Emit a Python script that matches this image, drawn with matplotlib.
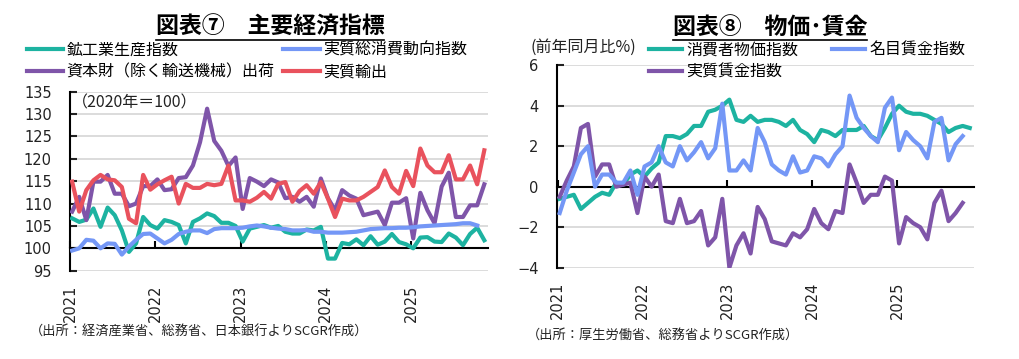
import numpy as np
import matplotlib
matplotlib.use('Agg')
import matplotlib.pyplot as plt
from matplotlib.lines import Line2D

plt.rcParams['font.family'] = ['Noto Sans CJK JP', 'DejaVu Sans']

# ---- data: monthly, Jan 2021 onwards ----
years = ['2021', '2022', '2023', '2024', '2025']

# 図表⑦ (2020=100)
ip = [106.7, 105.9, 106.4, 108.9, 104.8, 109.1, 107.4, 104.0, 99.2, 101.1, 107.0, 105.2,
      104.4, 106.3, 105.9, 105.2, 101.1, 105.9, 106.7, 107.8, 107.2, 105.7, 105.7, 105.0,
      101.5, 104.4, 104.8, 105.2, 104.6, 105.0, 103.7, 103.3, 103.3, 104.2, 104.0, 104.8,
      97.7, 97.7, 101.2, 100.9, 102.0, 100.7, 102.7, 100.8, 101.5, 103.2, 101.4, 100.9,
      100.0, 102.4, 102.5, 101.5, 101.4, 103.3, 102.4, 100.7, 103.2, 104.6, 101.8]
consumption = [99.5, 100.0, 101.9, 101.7, 100.0, 101.1, 101.0, 98.6, 100.4, 101.9, 103.2, 103.3,
               102.2, 101.1, 101.9, 103.2, 103.7, 104.0, 104.0, 103.4, 104.3, 104.5, 104.5, 104.5,
               104.6, 104.9, 105.1, 104.9, 104.6, 104.4, 104.3, 104.0, 104.0, 104.1, 103.7, 103.7,
               103.5, 103.5, 103.5, 103.6, 103.7, 104.0, 104.3, 104.4, 104.5, 104.5, 104.6, 104.6,
               104.7, 104.9, 105.0, 105.1, 105.2, 105.3, 105.4, 105.6, 105.6, 105.1]
capital_goods = [108.2, 111.5, 106.3, 114.9, 114.9, 116.4, 112.2, 112.2, 109.4, 110.0, 113.9, 113.9,
                 115.4, 113.0, 113.2, 115.7, 115.9, 118.5, 123.7, 131.2, 124.0, 121.8, 118.4, 120.3,
                 108.8, 115.7, 114.9, 113.9, 115.4, 114.7, 111.2, 111.5, 110.4, 111.5, 109.3, 115.6,
                 111.2, 108.5, 113.0, 111.8, 111.1, 107.4, 107.8, 108.2, 105.2, 110.2, 110.2, 111.2,
                 102.2, 112.4, 108.5, 105.6, 113.8, 116.9, 107.0, 107.0, 109.6, 109.6, 114.3]
exports = [114.9, 108.2, 113.0, 115.2, 116.4, 115.4, 115.2, 113.7, 106.6, 105.6, 116.4, 113.1,
           114.3, 115.2, 116.0, 110.0, 114.4, 113.5, 113.5, 114.4, 114.1, 114.4, 118.5, 110.7,
           110.7, 110.4, 111.3, 112.6, 111.1, 114.4, 114.8, 110.4, 112.8, 114.1, 112.2, 114.8,
           111.1, 107.0, 111.1, 110.7, 110.7, 111.5, 112.6, 113.7, 117.4, 113.7, 112.2, 117.3,
           113.9, 122.3, 118.5, 117.0, 117.0, 120.8, 115.4, 115.4, 118.5, 114.3, 121.9]

# 図表⑧ (前年同月比%)
cpi = [-0.6, -0.5, -0.4, -1.1, -0.8, -0.5, -0.3, -0.4, 0.2, 0.1, 0.6, 0.8,
       0.5, 0.9, 1.2, 2.5, 2.5, 2.4, 2.6, 3.0, 3.0, 3.7, 3.8, 4.0,
       4.3, 3.3, 3.2, 3.5, 3.2, 3.3, 3.3, 3.2, 3.0, 3.3, 2.8, 2.6,
       2.2, 2.8, 2.7, 2.5, 2.8, 2.8, 2.8, 3.0, 2.5, 2.3, 2.9, 3.6,
       4.0, 3.7, 3.6, 3.6, 3.5, 3.3, 3.1, 2.7, 2.9, 3.0, 2.9]
nominal_wage = [-1.3, -0.2, 0.7, 1.6, 2.0, 0.0, 0.6, 0.6, 0.2, 0.2, 0.8, -0.4,
                1.0, 1.2, 2.0, 1.2, 1.0, 2.0, 1.3, 1.7, 2.2, 1.4, 1.9, 4.1,
                0.8, 0.8, 1.3, 0.8, 2.9, 2.2, 1.1, 0.8, 0.6, 1.5, 0.7, 0.8,
                1.5, 1.4, 1.0, 1.6, 2.0, 4.5, 3.4, 2.9, 2.5, 2.2, 3.9, 4.4,
                1.8, 2.7, 2.3, 2.0, 1.4, 3.2, 3.4, 1.3, 2.1, 2.5]
real_wage = [-0.5, 0.3, 1.0, 2.9, 3.1, 0.5, 1.1, 1.1, 0.0, 0.1, 0.2, -1.3,
             0.5, 0.0, 0.6, -1.7, -1.8, -0.6, -1.8, -1.7, -1.2, -2.9, -2.5, -0.6,
             -4.0, -2.9, -2.3, -3.3, -1.0, -1.6, -2.7, -2.8, -2.9, -2.3, -2.5, -2.1,
             -1.1, -1.8, -2.1, -1.2, -1.3, 1.1, 0.2, -0.8, -0.4, -0.4, 0.5, 0.3,
             -2.8, -1.5, -1.8, -2.0, -2.6, -0.8, -0.2, -1.7, -1.3, -0.8]

TEAL = '#1db3a1'
BLUE = '#7497f6'
PURPLE = '#7f55a9'
RED = '#e9525d'
GRID = '#d9d9d9'
LW = 3.0
FS = 11.5
TICK_FS = 10.5

fig = plt.figure(figsize=(10.2, 3.59), dpi=100)
ax1 = fig.add_axes([0.0686, 0.2460, 0.4101, 0.4986])
ax2 = fig.add_axes([0.5458, 0.2543, 0.4091, 0.5641])

year_pos = np.arange(len(years)) * 12 - 0.3


def style_axis(ax, base, ylim, yticks, xlim):
    ax.set_xlim(*xlim)
    ax.set_ylim(*ylim)
    ax.set_yticks(yticks)
    ax.grid(axis='y', color=GRID, lw=1.3)
    ax.set_axisbelow(True)
    for s in ['top', 'right']:
        ax.spines[s].set_visible(False)
    ax.spines['left'].set_linewidth(1.5)
    ax.spines['bottom'].set_position(('data', base))
    ax.spines['bottom'].set_linewidth(1.5)
    ax.spines['bottom'].set_zorder(1)
    ax.set_xticks(year_pos)
    ax.tick_params(axis='x', direction='in', length=5, width=1.5, labelbottom=False)
    ax.tick_params(axis='y', direction='in', length=5, width=1.5, pad=13,
                   labelsize=TICK_FS, colors='#222222')
    for lab in ax.get_yticklabels():
        lab.set_family('DejaVu Sans')
    sec = ax.secondary_xaxis(0)
    sec.set_xticks(year_pos, years, rotation=90, fontsize=TICK_FS, color='#222222',
                   family='DejaVu Sans')
    sec.tick_params(length=0, pad=10)
    sec.spines['bottom'].set_visible(False)


# ---- 図表⑦ ----
x1 = np.arange(len(ip))
ax1.plot(x1, ip, color=TEAL, lw=LW, label='鉱工業生産指数', zorder=3)
ax1.plot(x1, capital_goods, color=PURPLE, lw=LW, label='資本財（除く輸送機械）出荷', zorder=3)
ax1.plot(np.arange(len(consumption)), consumption, color=BLUE, lw=LW, label='実質総消費動向指数', zorder=4)
ax1.plot(np.arange(len(exports)), exports, color=RED, lw=LW, label='実質輸出', zorder=3)
style_axis(ax1, 100, (95, 135), np.arange(95, 136, 5), (-0.24, 58.56))
ax1.text(0.005, 0.985, '（2020年＝100）', transform=ax1.transAxes, va='top', ha='left',
         fontsize=FS, color='#222222')

# ---- 図表⑧ ----
ax2.plot(np.arange(len(cpi)), cpi, color=TEAL, lw=LW, label='消費者物価指数', zorder=3)
ax2.plot(np.arange(len(real_wage)), real_wage, color=PURPLE, lw=LW, label='実質賃金指数', zorder=3)
ax2.plot(np.arange(len(nominal_wage)), nominal_wage, color=BLUE, lw=LW, label='名目賃金指数', zorder=4)
style_axis(ax2, 0, (-4, 6), np.arange(-4, 7, 2), (-0.42, 58.6))

# legends
h1, l1 = ax1.get_legend_handles_labels()
fig.legend(h1, l1, ncol=2, loc='upper left', bbox_to_anchor=(0.026, 0.885), frameon=False,
           fontsize=FS, handlelength=2.3, handletextpad=0.2, columnspacing=0.55,
           labelspacing=0.35, borderpad=0, borderaxespad=0)
h2, l2 = ax2.get_legend_handles_labels()
fig.legend(h2, l2, ncol=2, loc='upper left', bbox_to_anchor=(0.636, 0.885), frameon=False,
           fontsize=FS, handlelength=2.1, handletextpad=0.25, columnspacing=2.1,
           labelspacing=0.35, borderpad=0, borderaxespad=0)

fig.text(530 / 1020, 1 - 47 / 359, '(前年同月比%)', fontsize=FS, va='center', ha='left', color='#222222')

# titles with underline
t1 = fig.text(270 / 1020, 1 - 27 / 359, '図表⑦　主要経済指標', fontsize=16.5, fontweight='bold',
              ha='center', va='center')
t2 = fig.text(770 / 1020, 1 - 27 / 359, '図表⑧　物価･賃金', fontsize=16.5, fontweight='bold',
              ha='center', va='center')

# sources
fig.text(30 / 1020, 1 - 332 / 359, '（出所：経済産業省、総務省、日本銀行よりSCGR作成）', fontsize=9.5,
         va='center', ha='left', color='#222222')
fig.text(527 / 1020, 1 - 335 / 359, '（出所：厚生労働省、総務省よりSCGR作成）', fontsize=9.5,
         va='center', ha='left', color='#222222')

fig.canvas.draw()
r = fig.canvas.get_renderer()
W, H = fig.get_size_inches() * fig.dpi
for t in (t1, t2):
    bb = t.get_window_extent(r)
    yy = (bb.y0 - 1) / H
    fig.add_artist(Line2D([bb.x0 / W, bb.x1 / W], [yy, yy], color='black', lw=1.2))

fig.savefig('out.png', dpi=100)
